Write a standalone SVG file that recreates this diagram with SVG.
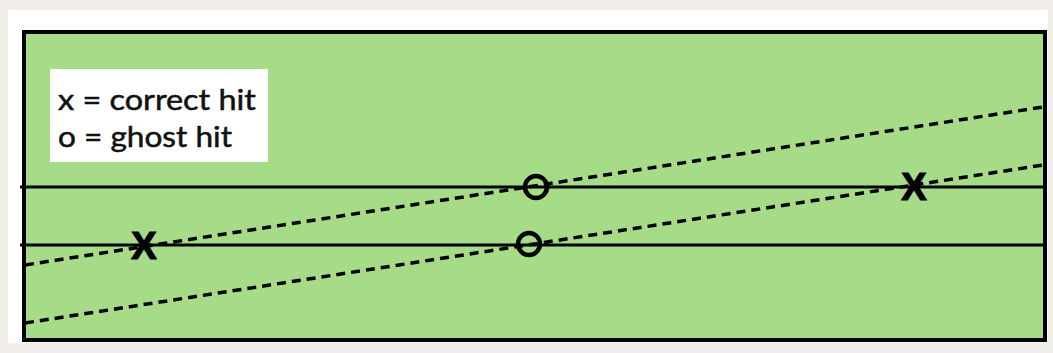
<svg xmlns="http://www.w3.org/2000/svg" width="1053" height="353" viewBox="0 0 1053 353">
  <defs>
    <style>
      .plane { fill: #a6dc88; stroke: #000; stroke-width: 4; }
      .layer { stroke: #000; stroke-width: 3; fill: none; }
      .track { stroke: #000; stroke-width: 3.5; fill: none; stroke-dasharray: 9 6; }
      .ghost { fill: none; stroke: #000; stroke-width: 4.5; }
      .hit { font-family: "Liberation Sans", Arial, sans-serif; font-weight: bold; font-size: 38px; fill: #000; stroke: #000; stroke-width: 1.2; text-anchor: middle; }
      .legend { font-family: Lato, "Open Sans", sans-serif; font-size: 29px; fill: #111; stroke: #111; stroke-width: 0.5; }
    </style>
  </defs>

  <!-- page and panel -->
  <rect x="0" y="0" width="1053" height="353" fill="#f2efea"/>
  <rect x="8" y="10" width="1040" height="333" fill="#ffffff"/>

  <!-- detector plane -->
  <g id="plane">
    <rect class="plane" x="24" y="32" width="1021" height="308"/>
  </g>

  <!-- legend -->
  <g id="legend">
    <rect x="50" y="69" width="218" height="93" fill="#ffffff"/>
    <text class="legend" x="58" y="110" textLength="198" lengthAdjust="spacingAndGlyphs">x = correct hit</text>
    <text class="legend" x="58" y="147" textLength="174" lengthAdjust="spacingAndGlyphs">o = ghost hit</text>
  </g>

  <!-- detector layers and candidate tracks -->
  <g id="connectors">
    <line class="layer" x1="20" y1="187" x2="1045" y2="187"/>
    <line class="layer" x1="20" y1="245" x2="1045" y2="245"/>
    <line class="track" x1="25" y1="265" x2="1043" y2="107"/>
    <line class="track" x1="25" y1="323" x2="1043" y2="165"/>
  </g>

  <!-- hits -->
  <g id="hit-left">
    <text class="hit" x="144" y="259">X</text>
  </g>
  <g id="hit-right">
    <text class="hit" x="914" y="200">X</text>
  </g>
  <g id="ghost-top">
    <circle class="ghost" cx="536" cy="187" r="11"/>
  </g>
  <g id="ghost-bottom">
    <circle class="ghost" cx="529" cy="244" r="11"/>
  </g>
</svg>
